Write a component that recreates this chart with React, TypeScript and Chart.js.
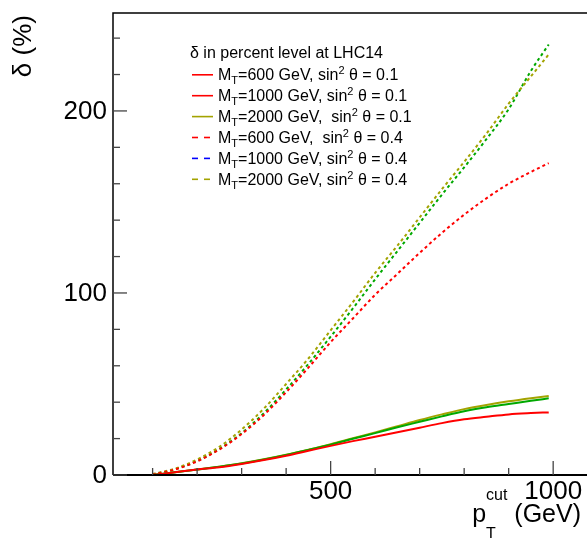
import React, { useEffect, useRef } from 'react';
import { Chart, registerables } from 'chart.js';

Chart.register(...registerables);

// ---- data ----
const pT = [100, 150, 200, 250, 300, 350, 400, 450, 500, 550, 600, 650, 700, 750, 800, 850, 900, 950, 990];
const solidRed = [0, 1.5, 3, 4.3, 6.1, 8.2, 10.6, 13.3, 16, 18.6, 21, 23.5, 26, 28.5, 30.6, 32, 33.3, 34, 34.4];
const solidGreen = [0, 1.5, 3, 4.5, 6.3, 8.5, 11, 13.8, 16.7, 19.9, 23, 26.2, 29.2, 32.2, 35, 37.2, 39, 40.8, 42.1];
const solidOlive = [0, 1.5, 3, 4.6, 6.4, 8.6, 11.1, 13.9, 16.9, 20.2, 23.4, 26.8, 30.2, 33.3, 36.2, 38.5, 40.5, 42.2, 43.4];
const dashRed = [0.3, 3, 7.5, 14, 22.5, 33, 45.5, 59, 73, 86, 99, 110.5, 122, 133, 143, 152, 160, 166.5, 171.3];
const dashGreen = [0.3, 3.2, 7.7, 14.3, 23, 34, 47, 61, 76, 91.5, 107.5, 123, 138.5, 154, 169, 184.5, 201, 222, 236.5];
const dashOlive = [0.5, 3.5, 8.5, 15.5, 25, 36.5, 50, 64, 79.5, 95, 111, 126, 141.5, 157, 172, 187.5, 204, 219, 231];

const yMajorTicks = [0, 100, 200];
const yMinorTicks = [20, 40, 60, 80, 120, 140, 160, 180, 220, 240];
const xMajorTicks = [500, 1000];
const xMinorTicks = [100, 200, 300, 400, 600, 700, 800, 900];

const legendHeader = 'δ in percent level at LHC14';
const legendMass = ['=600 GeV, sin', '=1000 GeV, sin', '=2000 GeV,  sin', '=600 GeV,  sin', '=1000 GeV, sin', '=2000 GeV, sin'];
const legendSin = [' θ = 0.1', ' θ = 0.1', ' θ = 0.1', ' θ = 0.4', ' θ = 0.4', ' θ = 0.4'];
const legendColors = ['#ff0000', '#ff0000', '#a3a300', '#ff0000', '#0000ff', '#a3a300'];
const legendDashed = [false, false, false, true, true, true];

const RED = '#ff0000';
const GREEN = '#00a800';
const OLIVE = '#a3a300';
const FONT = '"Liberation Sans", Arial, Helvetica, sans-serif';

type Part = { t: string; size: number; dy?: number; noAdvance?: boolean };

function partsWidth(ctx: CanvasRenderingContext2D, parts: Part[]) {
  let w = 0;
  for (const p of parts) {
    ctx.font = `${p.size}px ${FONT}`;
    if (!p.noAdvance) w += ctx.measureText(p.t).width;
  }
  return w;
}

function drawParts(ctx: CanvasRenderingContext2D, x: number, y: number, parts: Part[]) {
  let cx = x;
  for (const p of parts) {
    ctx.font = `${p.size}px ${FONT}`;
    ctx.fillText(p.t, cx, y + (p.dy || 0));
    if (!p.noAdvance) cx += ctx.measureText(p.t).width;
  }
}

const rootAxes = {
  id: 'rootAxes',
  afterDatasetsDraw(chart: any) {
    const { ctx, chartArea, scales } = chart;
    const { left: L, right: R, top: T, bottom: B } = chartArea;
    const xs = scales.x;
    const ys = scales.y;
    ctx.save();
    ctx.setLineDash([]);
    ctx.strokeStyle = '#000';
    // frame
    ctx.lineWidth = 1.5;
    ctx.beginPath();
    ctx.moveTo(L, B);
    ctx.lineTo(L, T);
    ctx.lineTo(R, T);
    ctx.stroke();
    ctx.lineWidth = 2;
    ctx.beginPath();
    ctx.moveTo(L, B);
    ctx.lineTo(R, B);
    ctx.stroke();

    // y ticks
    ctx.strokeStyle = '#444';
    ctx.lineWidth = 1.3;
    for (const v of yMinorTicks) {
      const py = ys.getPixelForValue(v);
      ctx.beginPath();
      ctx.moveTo(L, py);
      ctx.lineTo(L + 7, py);
      ctx.stroke();
    }
    ctx.fillStyle = '#000';
    ctx.textAlign = 'right';
    ctx.textBaseline = 'middle';
    ctx.font = `26px ${FONT}`;
    for (const v of yMajorTicks) {
      const py = ys.getPixelForValue(v);
      ctx.beginPath();
      ctx.moveTo(L, py);
      ctx.lineTo(L + 14, py);
      ctx.stroke();
      ctx.fillText(String(v), L - 6, py + 1);
    }

    // x ticks
    for (const v of xMinorTicks) {
      const px = xs.getPixelForValue(v);
      ctx.beginPath();
      ctx.moveTo(px, B);
      ctx.lineTo(px, B - 7);
      ctx.stroke();
    }
    ctx.textAlign = 'center';
    ctx.textBaseline = 'alphabetic';
    for (const v of xMajorTicks) {
      const px = xs.getPixelForValue(v);
      ctx.beginPath();
      ctx.moveTo(px, B);
      ctx.lineTo(px, B - 14);
      ctx.stroke();
      ctx.fillText(String(v), px, 499);
    }

    // x title: p_T^cut (GeV)
    ctx.textAlign = 'left';
    const xTitle: Part[] = [
      { t: 'p', size: 25 },
      { t: 'T', size: 16, dy: 17, noAdvance: true },
      { t: 'cut', size: 16, dy: -22 },
      { t: ' (GeV)', size: 25 },
    ];
    const w = partsWidth(ctx, xTitle);
    drawParts(ctx, 581 - w, 522, xTitle);

    // y title
    ctx.save();
    ctx.translate(24, 15);
    ctx.rotate(-Math.PI / 2);
    ctx.textAlign = 'right';
    ctx.textBaseline = 'middle';
    ctx.font = `26px ${FONT}`;
    ctx.fillText('δ (%)', 0, 0);
    ctx.restore();

    // legend
    ctx.textAlign = 'left';
    ctx.textBaseline = 'alphabetic';
    ctx.font = `16px ${FONT}`;
    ctx.fillText(legendHeader, 190, 58);
    for (let i = 0; i < legendMass.length; i++) {
      const yc = 74.8 + i * 20.9;
      ctx.strokeStyle = legendColors[i];
      ctx.lineWidth = 1.6;
      ctx.setLineDash(legendDashed[i] ? [6, 6] : []);
      ctx.beginPath();
      ctx.moveTo(192, yc);
      ctx.lineTo(legendDashed[i] ? 210 : 213, yc);
      ctx.stroke();
      ctx.setLineDash([]);
      ctx.fillStyle = '#000';
      drawParts(ctx, 218, yc + 5.5, [
        { t: 'M', size: 16 },
        { t: 'T', size: 11, dy: 4 },
        { t: legendMass[i], size: 16 },
        { t: '2', size: 11, dy: -6 },
        { t: legendSin[i], size: 16 },
      ]);
    }
    ctx.restore();
  },
};

function series(vals: number[]) {
  return pT.map((x, i) => ({ x, y: vals[i] }));
}

export default function App() {
  const ref = useRef<HTMLCanvasElement>(null);
  useEffect(() => {
    if (!ref.current) return;
    const mk = (label: string, vals: number[], color: string, dashed: boolean) => ({
      label,
      data: series(vals),
      borderColor: color,
      backgroundColor: color,
      borderWidth: 2,
      borderDash: dashed ? [3, 3] : [],
      pointRadius: 0,
      fill: false,
      cubicInterpolationMode: 'monotone' as const,
    });
    const chart = new Chart(ref.current, {
      type: 'line',
      data: {
        datasets: [
          mk('MT=600 sin2=0.1', solidRed, RED, false),
          mk('MT=1000 sin2=0.1', solidGreen, GREEN, false),
          mk('MT=2000 sin2=0.1', solidOlive, OLIVE, false),
          mk('MT=600 sin2=0.4', dashRed, RED, true),
          mk('MT=2000 sin2=0.4', dashOlive, OLIVE, true),
          mk('MT=1000 sin2=0.4', dashGreen, GREEN, true),
        ],
      },
      options: {
        animation: false,
        responsive: false,
        devicePixelRatio: 1,
        layout: { padding: { left: 113, top: 13, right: 0, bottom: 63 } },
        scales: {
          x: { type: 'linear', min: 11, max: 1076, display: false },
          y: { type: 'linear', min: 0, max: 253.8, display: false },
        },
        plugins: { legend: { display: false }, tooltip: { enabled: false } },
      },
      plugins: [rootAxes],
    });
    return () => chart.destroy();
  }, []);
  return (
    <div style={{ position: 'absolute', left: 0, top: 0, width: 587, height: 538, background: '#fff' }}>
      <canvas ref={ref} width={587} height={538} style={{ display: 'block', width: 587, height: 538 }} />
    </div>
  );
}
